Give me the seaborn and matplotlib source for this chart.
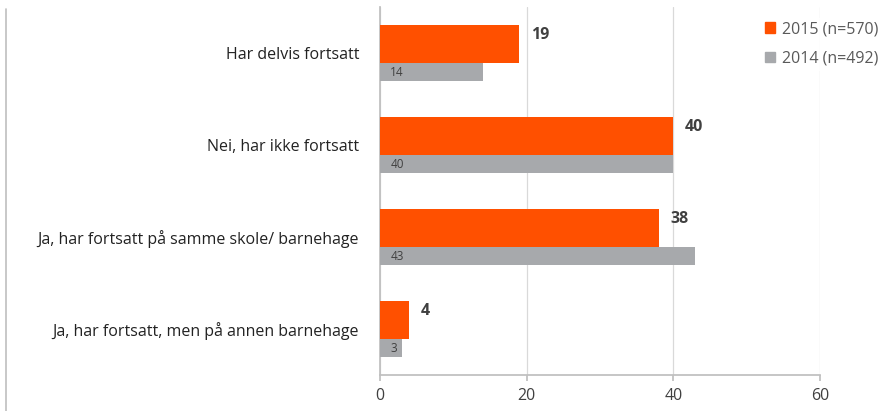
import matplotlib
matplotlib.use('Agg')
import matplotlib.pyplot as plt
import seaborn as sns
import pandas as pd
from matplotlib.lines import Line2D
from matplotlib.patches import Patch

# Data
categories = ['Har delvis fortsatt',
              'Nei, har ikke fortsatt',
              'Ja, har fortsatt på samme skole/ barnehage',
              'Ja, har fortsatt, men på annen barnehage']
values_2015 = [19, 40, 38, 4]
values_2014 = [14, 40, 43, 3]
label_2015 = '2015 (n=570)'
label_2014 = '2014 (n=492)'
x_ticks = [0, 20, 40, 60]

orange = '#FF5000'
grey = '#A7A9AC'
text_col = '#404040'

sns.set_theme(style='white')
plt.rcParams['font.family'] = ['Open Sans', 'DejaVu Sans']

fig = plt.figure(figsize=(8.86, 4.11), dpi=100)
ax = fig.add_axes([380 / 886, 1 - 375 / 411, 440 / 886, 368 / 411])

df15 = pd.DataFrame({'kategori': categories, 'verdi': values_2015})
df14 = pd.DataFrame({'kategori': categories, 'verdi': values_2014})

sns.barplot(data=df15, x='verdi', y='kategori', orient='h', color=orange,
            saturation=1, width=0.413, ax=ax, zorder=3)
n15 = len(ax.patches)
sns.barplot(data=df14, x='verdi', y='kategori', orient='h', color=grey,
            saturation=1, width=0.195, ax=ax, zorder=3)

# shift the two series apart inside each category slot
for i, p in enumerate(ax.patches):
    if i < n15:
        p.set_y(p.get_y() - 0.098)
    else:
        p.set_y(p.get_y() + 0.2075)
    p.set_edgecolor('none')

# value labels
for i, (v15, v14) in enumerate(zip(values_2015, values_2014)):
    ax.text(v15 + 1.6, i - 0.2, str(v15), ha='left', va='center',
            fontsize=11.5, fontweight='bold', color=text_col)
    ax.text(1.4, i + 0.215, str(v14), ha='left', va='center',
            fontsize=8.5, color=text_col, zorder=4)

ax.set_xlim(0, 60)
ax.set_ylim(3.5, -0.5)
ax.set_xticks(x_ticks)
ax.set_xticklabels([str(t) for t in x_ticks], fontsize=11.5, color=text_col)
ax.set_yticks(range(len(categories)))
ax.set_yticklabels(categories, fontsize=11.5, color='#222222')
ax.set_xlabel('')
ax.set_ylabel('')

ax.grid(axis='x', color='#D9D9D9', linewidth=0.9, zorder=0)
ax.set_axisbelow(True)
for s in ['top', 'right']:
    ax.spines[s].set_visible(False)
ax.spines['left'].set_color('#BFBFBF')
ax.spines['bottom'].set_color('#BFBFBF')
ax.tick_params(axis='x', length=4, color='#BFBFBF', bottom=True, pad=5)
ax.tick_params(axis='y', length=0, pad=15)

handles = [Patch(color=orange, label=label_2015),
           Patch(color=grey, label=label_2014)]
leg = ax.legend(handles=handles, loc='upper left', bbox_to_anchor=(762 / 886, 1 - 18 / 411),
                bbox_transform=fig.transFigure, frameon=True, fontsize=11.5,
                handlelength=0.6, handleheight=0.6, handletextpad=0.45,
                labelspacing=0.85, borderpad=0.2, borderaxespad=0)
leg.get_frame().set_facecolor('white')
leg.get_frame().set_edgecolor('white')
for t in leg.get_texts():
    t.set_color('#595959')

# left border of the chart frame
fig.add_artist(Line2D([6 / 886, 6 / 886], [0, 1 - 9 / 411], color='#BFBFBF', linewidth=1.2))

fig.savefig('out.png', dpi=100)
